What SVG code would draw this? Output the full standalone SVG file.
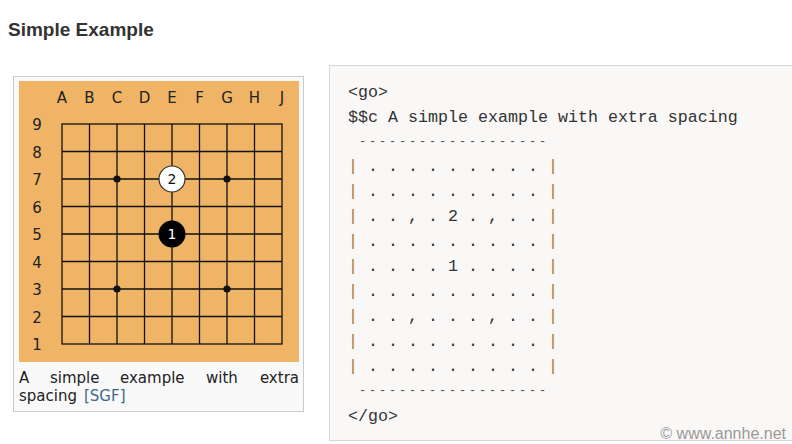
<svg xmlns="http://www.w3.org/2000/svg" width="792" height="444" viewBox="0 0 792 444">
<style>
.title{font-family:"Liberation Sans",Arial,sans-serif;font-weight:bold;font-size:19px;fill:#333}
.coord{font-family:"DejaVu Sans",Verdana,sans-serif;font-size:15px;fill:#222;text-anchor:middle}
.grid{stroke:#111;stroke-width:1.3;fill:none}
.cap{font-family:"DejaVu Sans",Verdana,sans-serif;font-size:15px;fill:#222}
.link{fill:#3e6a8c}
.code{font-family:"Liberation Mono","DejaVu Sans Mono",monospace;font-size:16.667px;fill:#333;white-space:pre}
.bar{fill:#a87c2c}
.dash{fill:#555;font-size:12px;letter-spacing:2.8px}
.wm{font-family:"Liberation Sans",Arial,sans-serif;font-size:16px;fill:#9a9a9a;text-anchor:end}
.stonenum{font-family:"DejaVu Sans",Verdana,sans-serif;font-size:14px;text-anchor:middle}
</style>
<rect width="792" height="444" fill="#ffffff"/>
<text class="title" x="8" y="36">Simple Example</text>

<g id="figure">
  <rect x="13.5" y="76.5" width="290" height="335" fill="#f9f9f9" stroke="#c8ccd1"/>
  <rect x="19" y="81" width="280" height="281" fill="#f0b466"/>
</g>

<g id="board">
  <g class="grid">
    <rect x="62" y="124" width="220" height="220"/>
    <path d="M89.5 124V344M117 124V344M144.5 124V344M172 124V344M199.5 124V344M227 124V344M254.5 124V344M62 151.5H282M62 179H282M62 206.5H282M62 234H282M62 261.5H282M62 289H282M62 316.5H282"/>
  </g>
  <g fill="#111">
    <circle cx="117" cy="179" r="3.6"/>
    <circle cx="227" cy="179" r="3.6"/>
    <circle cx="117" cy="289" r="3.6"/>
    <circle cx="227" cy="289" r="3.6"/>
  </g>
  <g class="coord">
    <text x="62" y="103">A</text><text x="89.5" y="103">B</text><text x="117" y="103">C</text>
    <text x="144.5" y="103">D</text><text x="172" y="103">E</text><text x="199.5" y="103">F</text>
    <text x="227" y="103">G</text><text x="254.5" y="103">H</text><text x="282" y="103">J</text>
    <text x="37" y="130">9</text><text x="37" y="157.5">8</text><text x="37" y="185">7</text>
    <text x="37" y="212.5">6</text><text x="37" y="240">5</text><text x="37" y="267.5">4</text>
    <text x="37" y="295">3</text><text x="37" y="322.5">2</text><text x="37" y="350">1</text>
  </g>
</g>

<g id="stone-2">
  <circle cx="172" cy="179" r="13" fill="#ffffff" stroke="#333" stroke-width="1.2"/>
  <text class="stonenum" x="172" y="184" fill="#111">2</text>
</g>
<g id="stone-1">
  <circle cx="172" cy="234" r="13.5" fill="#000"/>
  <text class="stonenum" x="172" y="239" fill="#fff">1</text>
</g>

<g id="caption" class="cap">
  <text x="19" y="383">A</text>
  <text x="50" y="383">simple</text>
  <text x="120" y="383">example</text>
  <text x="206" y="383">with</text>
  <text x="299" y="383" text-anchor="end">extra</text>
  <text x="19" y="401">spacing</text>
  <text x="84" y="401" class="link">[SGF]</text>
</g>

<g id="codebox">
  <rect x="329.5" y="65.5" width="470" height="375" fill="#f9f8f7" stroke="#d6d6d6"/>
  <g class="code" xml:space="preserve">
    <text x="348" y="97">&lt;go&gt;</text>
    <text x="348" y="122">$$c A simple example with extra spacing</text>
    <text x="359" y="144.5" class="dash">-------------------</text>
    <text x="348" y="171"><tspan class="bar">|</tspan> . . . . . . . . . <tspan class="bar">|</tspan></text>
    <text x="348" y="196"><tspan class="bar">|</tspan> . . . . . . . . . <tspan class="bar">|</tspan></text>
    <text x="348" y="221"><tspan class="bar">|</tspan> . . , . 2 . , . . <tspan class="bar">|</tspan></text>
    <text x="348" y="246"><tspan class="bar">|</tspan> . . . . . . . . . <tspan class="bar">|</tspan></text>
    <text x="348" y="271"><tspan class="bar">|</tspan> . . . . 1 . . . . <tspan class="bar">|</tspan></text>
    <text x="348" y="296"><tspan class="bar">|</tspan> . . . . . . . . . <tspan class="bar">|</tspan></text>
    <text x="348" y="321"><tspan class="bar">|</tspan> . . , . . . , . . <tspan class="bar">|</tspan></text>
    <text x="348" y="346"><tspan class="bar">|</tspan> . . . . . . . . . <tspan class="bar">|</tspan></text>
    <text x="348" y="371"><tspan class="bar">|</tspan> . . . . . . . . . <tspan class="bar">|</tspan></text>
    <text x="359" y="393.5" class="dash">-------------------</text>
    <text x="348" y="421">&lt;/go&gt;</text>
  </g>
</g>

<text class="wm" x="786" y="439">© www.annhe.net</text>
</svg>
